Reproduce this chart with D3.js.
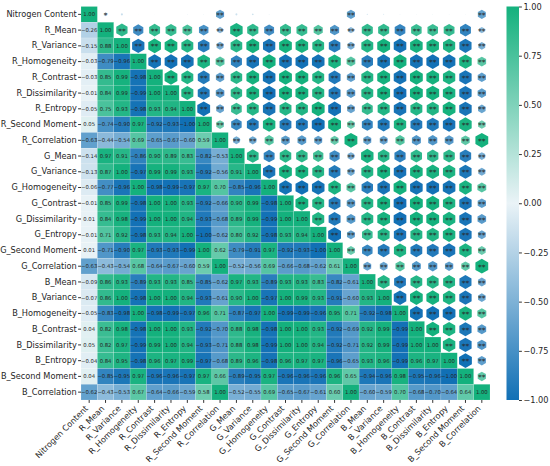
<!DOCTYPE html>
<html>
<head>
<meta charset="utf-8">
<script src="https://cdn.jsdelivr.net/npm/d3@7/dist/d3.min.js"></script>
<style>
  html, body { margin: 0; padding: 0; background: #ffffff; }
  svg { display: block; font-family: "DejaVu Sans", sans-serif; }
</style>
</head>
<body>
<svg id="chart" width="550" height="466"></svg>
<script>
// ---------------- DATA ----------------
const labels = ["Nitrogen Content","R_Mean","R_Variance","R_Homogeneity","R_Contrast","R_Dissimilarity","R_Entropy","R_Second Moment","R_Correlation","G_Mean","G_Variance","G_Homogeneity","G_Contrast","G_Dissimilarity","G_Entropy","G_Second Moment","G_Correlation","B_Mean","B_Variance","B_Homogeneity","B_Contrast","B_Dissimilarity","B_Entropy","B_Second Moment","B_Correlation"];

// lower triangle, row i holds correlations with columns 0..i-1
const lowerRows = [
  [],
  [-0.26],
  [-0.15, 0.88],
  [-0.03, -0.79, -0.96],
  [-0.03, 0.85, 0.99, -0.98],
  [-0.01, 0.84, 0.99, -0.99, 1.00],
  [-0.05, 0.75, 0.93, -0.98, 0.93, 0.94],
  [0.05, -0.74, -0.90, 0.97, -0.92, -0.93, -1.00],
  [-0.63, -0.44, -0.54, 0.69, -0.65, -0.67, -0.60, 0.59],
  [-0.14, 0.97, 0.91, -0.86, 0.90, 0.89, 0.83, -0.82, -0.53],
  [-0.13, 0.87, 1.00, -0.97, 0.99, 0.99, 0.93, -0.92, -0.56, 0.91],
  [-0.06, -0.77, -0.96, 1.00, -0.98, -0.99, -0.97, 0.97, 0.70, -0.85, -0.96],
  [-0.01, 0.85, 0.99, -0.98, 1.00, 1.00, 0.93, -0.92, -0.66, 0.90, 0.99, -0.98],
  [0.01, 0.84, 0.98, -0.99, 1.00, 1.00, 0.94, -0.93, -0.68, 0.89, 0.99, -0.99, 1.00],
  [-0.01, 0.71, 0.92, -0.98, 0.93, 0.94, 1.00, -1.00, -0.62, 0.80, 0.92, -0.98, 0.93, 0.94],
  [0.01, -0.71, -0.90, 0.97, -0.93, -0.93, -0.99, 1.00, 0.62, -0.79, -0.91, 0.97, -0.92, -0.93, -1.00],
  [-0.63, -0.43, -0.54, 0.68, -0.64, -0.67, -0.60, 0.59, 1.00, -0.52, -0.56, 0.69, -0.66, -0.68, -0.62, 0.61],
  [-0.09, 0.86, 0.93, -0.89, 0.93, 0.93, 0.85, -0.85, -0.62, 0.97, 0.93, -0.89, 0.93, 0.93, 0.83, -0.82, -0.61],
  [-0.07, 0.86, 1.00, -0.98, 1.00, 1.00, 0.94, -0.93, -0.61, 0.90, 1.00, -0.97, 1.00, 0.99, 0.93, -0.91, -0.60, 0.93],
  [-0.05, -0.83, -0.98, 1.00, -0.98, -0.99, -0.97, 0.96, 0.71, -0.87, -0.97, 1.00, -0.99, -0.99, -0.96, 0.95, 0.71, -0.92, -0.98],
  [0.04, 0.82, 0.98, -0.98, 1.00, 1.00, 0.93, -0.92, -0.70, 0.88, 0.98, -0.98, 1.00, 1.00, 0.93, -0.92, -0.69, 0.92, 0.99, -0.99],
  [0.05, 0.82, 0.97, -0.99, 0.99, 1.00, 0.94, -0.93, -0.71, 0.88, 0.98, -0.99, 1.00, 1.00, 0.94, -0.92, -0.71, 0.92, 0.99, -0.99, 1.00],
  [-0.04, 0.84, 0.95, -0.98, 0.96, 0.97, 0.99, -0.97, -0.68, 0.89, 0.96, -0.98, 0.96, 0.97, 0.97, -0.96, -0.65, 0.93, 0.96, -0.99, 0.96, 0.97],
  [0.04, -0.85, -0.95, 0.97, -0.96, -0.96, -0.97, 0.97, 0.66, -0.89, -0.95, 0.97, -0.96, -0.96, -0.96, 0.96, 0.65, -0.94, -0.96, 0.98, -0.95, -0.96, -1.00],
  [-0.62, -0.43, -0.53, 0.67, -0.64, -0.66, -0.59, 0.58, 1.00, -0.52, -0.55, 0.69, -0.65, -0.67, -0.61, 0.60, 1.00, -0.60, -0.59, 0.70, -0.68, -0.70, -0.64, 0.64]
];

const colorbarTicks = [1.00, 0.75, 0.50, 0.25, 0.00, -0.25, -0.50, -0.75, -1.00];
// significance thresholds on |r| (derived marks)
const sigLevels = [{min: 0.40, mark: "**"}, {min: 0.20, mark: "*"}];

// ---------------- LAYOUT ----------------
const svg = d3.select("#chart");
const mLeft = 81, mRight = 490, mTop = 6.5, mBottom = 400;
const n = labels.length;

const x = d3.scaleBand().domain(d3.range(n)).range([mLeft, mRight]).paddingInner(0).paddingOuter(0);
const y = d3.scaleBand().domain(d3.range(n)).range([mTop, mBottom]).paddingInner(0).paddingOuter(0);
const color = d3.scaleLinear().domain([-1, 0, 1]).range(["#1170b5", "#eaf3f7", "#14b17d"]).interpolate(d3.interpolateRgb);
const hexSize = d3.scaleLinear().domain([0, 1]).range([0, 7.4]);

// full matrix cells
const cells = [];
for (let i = 0; i < n; i++) {
  for (let j = 0; j < n; j++) {
    let v;
    if (i === j) v = 1.0;
    else if (j < i) v = lowerRows[i][j];
    else v = lowerRows[j][i];
    cells.push({i, j, v});
  }
}
const lower = cells.filter(d => d.j <= d.i);
const upper = cells.filter(d => d.j > d.i);

const fmt = v => {
  const s = Math.abs(v).toFixed(2);
  return (v < 0 ? "\u2212" : "") + s;
};

// lower triangle heatmap
svg.append("g").selectAll("rect").data(lower).join("rect")
  .attr("x", d => x(d.j)).attr("y", d => y(d.i))
  .attr("width", x.bandwidth()).attr("height", y.bandwidth())
  .attr("fill", d => color(d.v))
  .attr("stroke", "#ffffff").attr("stroke-opacity", 0.35).attr("stroke-width", 0.4);

svg.append("g").selectAll("text").data(lower).join("text")
  .attr("x", d => x(d.j) + x.bandwidth() / 2)
  .attr("y", d => y(d.i) + y.bandwidth() / 2 + 1.9)
  .attr("text-anchor", "middle")
  .attr("font-size", 5.3)
  .attr("fill", "#262626")
  .text(d => fmt(d.v));

// upper triangle hexagons
function hexPath(cx, cy, R) {
  const pts = d3.range(6).map(k => {
    const a = (-90 + 60 * k) * Math.PI / 180;
    return [cx + R * Math.cos(a), cy + R * Math.sin(a)];
  });
  return "M" + pts.map(p => p.join(",")).join("L") + "Z";
}
svg.append("g").selectAll("path").data(upper).join("path")
  .attr("d", d => hexPath(x(d.j) + x.bandwidth() / 2, y(d.i) + y.bandwidth() / 2, hexSize(Math.abs(d.v))))
  .attr("fill", d => color(d.v));

const starOf = v => {
  const a = Math.abs(v);
  for (const s of sigLevels) if (a >= s.min) return s.mark;
  return "";
};
svg.append("g").selectAll("text").data(upper.filter(d => starOf(d.v) !== "")).join("text")
  .attr("x", d => x(d.j) + x.bandwidth() / 2)
  .attr("y", d => y(d.i) + y.bandwidth() / 2 + 3.6)
  .attr("text-anchor", "middle")
  .attr("font-size", 7.5)
  .attr("fill", "#2a2a2a")
  .text(d => starOf(d.v));

// y axis
const yAxis = d3.axisLeft(y).tickSize(2.9).tickPadding(1.3).tickFormat(i => labels[i]);
const gy = svg.append("g").attr("transform", `translate(${mLeft},0)`).call(yAxis);
gy.select(".domain").remove();
gy.selectAll("text").attr("font-size", 8.2).attr("fill", "#262626").attr("font-family", "DejaVu Sans");
gy.selectAll("line").attr("stroke", "#333");

// x axis
const xAxis = d3.axisBottom(x).tickSize(2.9).tickPadding(2).tickFormat(i => labels[i]);
const gx = svg.append("g").attr("transform", `translate(0,${mBottom})`).call(xAxis);
gx.select(".domain").remove();
gx.selectAll("line").attr("stroke", "#333");
gx.selectAll("text")
  .attr("font-size", 8.2).attr("fill", "#262626").attr("font-family", "DejaVu Sans")
  .attr("text-anchor", "end")
  .attr("dy", null).attr("y", null)
  .attr("transform", "translate(-0.6,9) rotate(-45)");

// colorbar
const cbX = 506.5, cbW = 12.5;
const cbScale = d3.scaleLinear().domain([1, -1]).range([mTop, mBottom]);
const defs = svg.append("defs");
const grad = defs.append("linearGradient").attr("id", "cbgrad").attr("x1", 0).attr("y1", 0).attr("x2", 0).attr("y2", 1);
d3.range(0, 21).forEach(k => {
  const v = 1 - k * 0.1;
  grad.append("stop").attr("offset", (k / 20 * 100) + "%").attr("stop-color", color(v));
});
svg.append("rect").attr("x", cbX).attr("y", mTop).attr("width", cbW).attr("height", mBottom - mTop).attr("fill", "url(#cbgrad)");
const cbAxis = d3.axisRight(cbScale).tickValues(colorbarTicks).tickSize(2.9).tickPadding(1.5)
  .tickFormat(v => (v < 0 ? "\u2212" : "") + Math.abs(v).toFixed(2));
const gc = svg.append("g").attr("transform", `translate(${cbX + cbW},0)`).call(cbAxis);
gc.select(".domain").remove();
gc.selectAll("text").attr("font-size", 8.2).attr("fill", "#262626").attr("font-family", "DejaVu Sans");
gc.selectAll("line").attr("stroke", "#333");
</script>
</body>
</html>
